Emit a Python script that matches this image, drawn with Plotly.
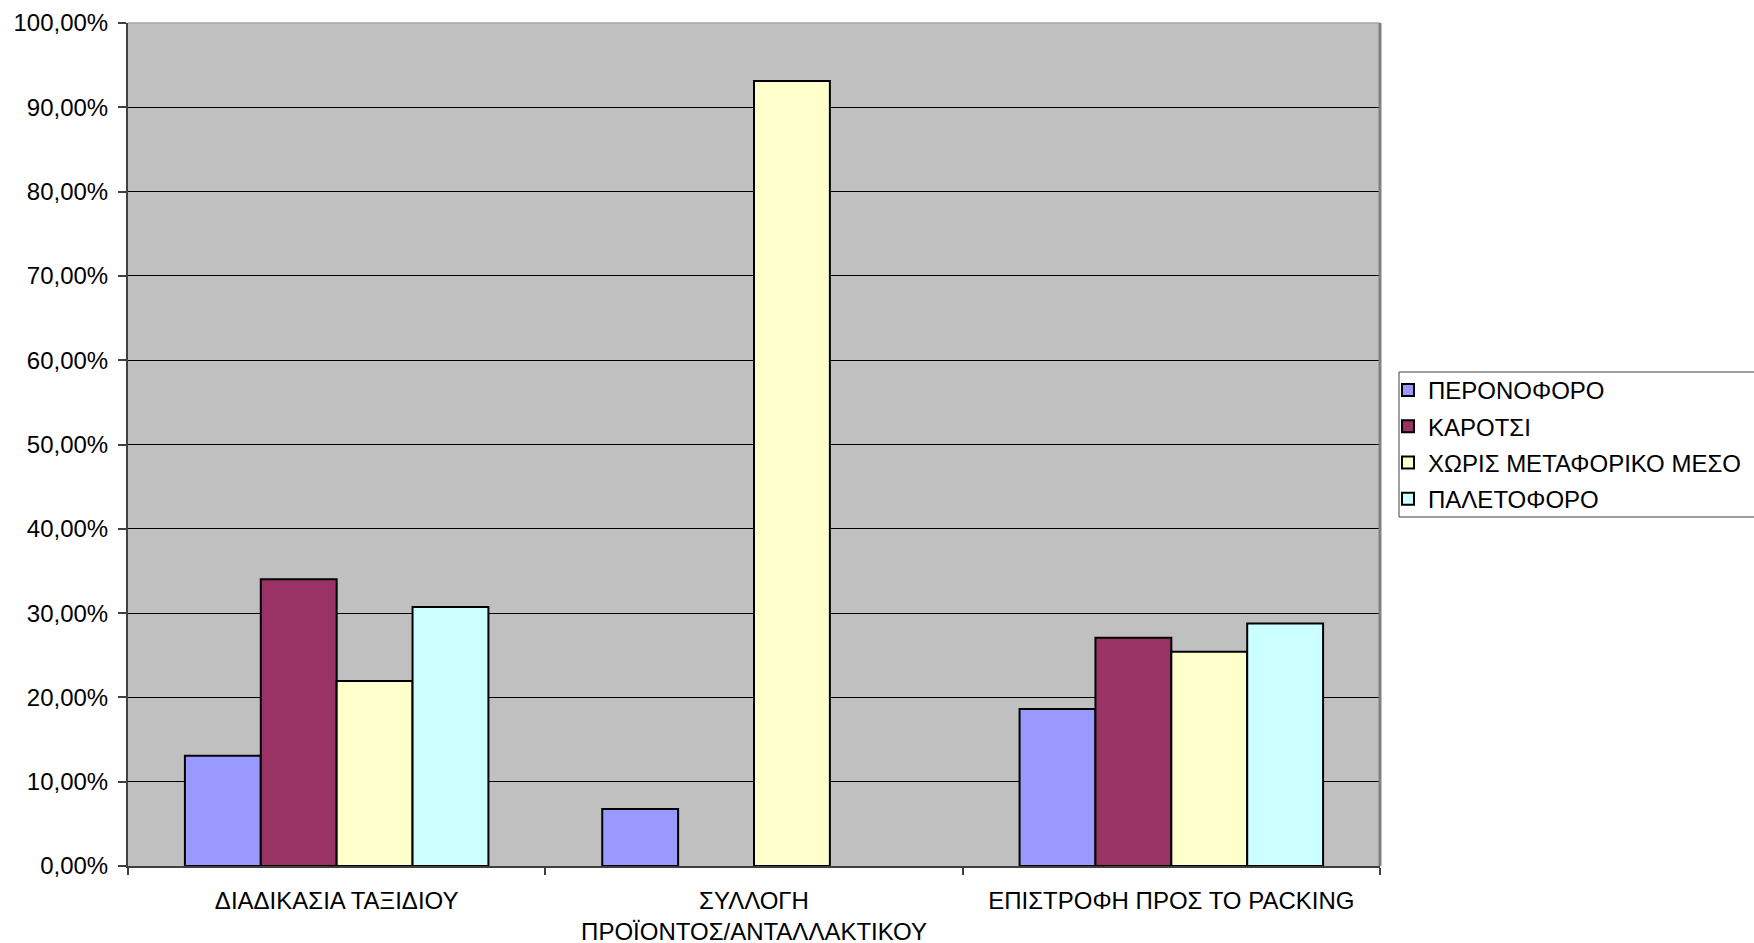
import plotly.graph_objects as go

# Categories (x axis) and share of each transport means per activity, in percent
categories = [
    "ΔΙΑΔΙΚΑΣΙΑ ΤΑΞΙΔΙΟΥ",
    "ΣΥΛΛΟΓΗ<br>ΠΡΟΪΟΝΤΟΣ/ΑΝΤΑΛΛΑΚΤΙΚΟΥ",
    "ΕΠΙΣΤΡΟΦΗ ΠΡΟΣ ΤΟ PACKING",
]
peronoforo = [13.08, 6.76, 18.62]
karotsi = [34.03, None, 27.07]
xoris_meso = [21.94, 93.12, 25.41]
paletoforo = [30.71, None, 28.78]

series_names = ["ΠΕΡΟΝΟΦΟΡΟ", "ΚΑΡΟΤΣΙ", "ΧΩΡΙΣ ΜΕΤΑΦΟΡΙΚΟ ΜΕΣΟ", "ΠΑΛΕΤΟΦΟΡΟ"]
series_values = [peronoforo, karotsi, xoris_meso, paletoforo]
series_colors = ["#9999FF", "#993366", "#FFFFCC", "#CCFFFF"]

y_tickvals = [0, 10, 20, 30, 40, 50, 60, 70, 80, 90, 100]
y_ticktext = [f"{v:.2f}".replace(".", ",") + "%" for v in y_tickvals]

FONT = "Liberation Sans, Arial, sans-serif"
FS = 24

fig = go.Figure()
for i, (name, vals, col) in enumerate(zip(series_names, series_values, series_colors)):
    fig.add_trace(go.Bar(
        x=categories,
        y=vals,
        name=name,
        legendgroup=f"s{i}",
        marker=dict(color=col, line=dict(color="#000000", width=2)),
    ))

# pixel helpers for the plot-area frame (plot spans x 128..1380, y 23..866)
def px_x(px):
    return (px - 128) / 1252

def px_y(py):
    return (866 - py) / 843

fig.update_layout(
    width=1754,
    height=943,
    margin=dict(l=128, r=374, t=23, b=77, autoexpand=False),
    paper_bgcolor="#FFFFFF",
    plot_bgcolor="#C0C0C0",
    barmode="group",
    bargap=1.5 / 5.5,
    bargroupgap=0,
    font=dict(family=FONT, size=FS, color="#000000"),
    showlegend=True,
    legend=dict(
        x=px_x(1388),
        y=px_y(368),
        xanchor="left",
        yanchor="top",
        bgcolor="rgba(0,0,0,0)",
        borderwidth=0,
        font=dict(family=FONT, size=FS, color="#000000"),
        traceorder="grouped",
        tracegroupgap=2,
        itemwidth=30,
    ),
    xaxis=dict(
        type="category",
        showgrid=False,
        showline=True,
        linecolor="#404040",
        linewidth=1.5,
        ticks="outside",
        tickson="boundaries",
        ticklen=7,
        tickwidth=1.5,
        tickcolor="#404040",
        ticklabelstandoff=12,
        tickfont=dict(family=FONT, size=FS, color="#000000"),
    ),
    yaxis=dict(
        range=[0, 100],
        tickmode="array",
        tickvals=y_tickvals,
        ticktext=y_ticktext,
        showgrid=True,
        gridcolor="#000000",
        gridwidth=1,
        zeroline=False,
        showline=True,
        linecolor="#404040",
        linewidth=2,
        ticks="outside",
        ticklen=8,
        tickwidth=1.5,
        tickcolor="#404040",
        ticklabelstandoff=5,
        tickfont=dict(family=FONT, size=FS, color="#000000"),
    ),
    shapes=[
        # plot-area frame: top and right edges
        dict(type="line", xref="paper", yref="paper", x0=0, x1=1, y0=1, y1=1,
             line=dict(color="#A6A6A6", width=1.5)),
        dict(type="line", xref="paper", yref="paper", x0=1, x1=1, y0=0, y1=1,
             line=dict(color="#808080", width=3)),
        # legend frame
        dict(type="rect", xref="paper", yref="paper", layer="below",
             x0=px_x(1399), x1=px_x(1780), y0=px_y(517), y1=px_y(372),
             fillcolor="#FFFFFF", line=dict(color="#404040", width=1)),
    ],
)

fig.write_html("out.html")
